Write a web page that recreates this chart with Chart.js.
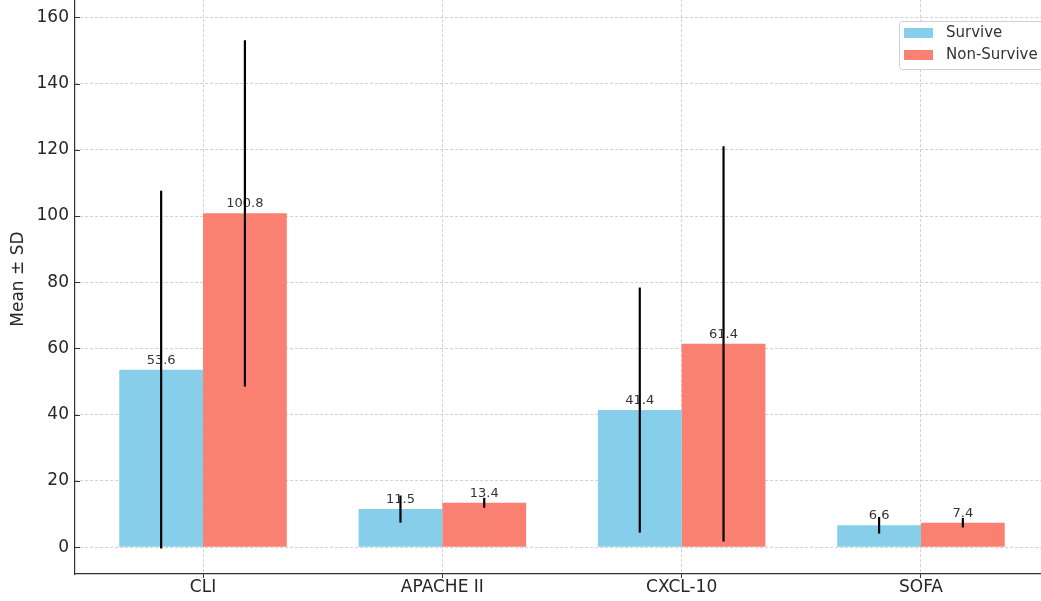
<!DOCTYPE html>
<html>
<head>
<meta charset="utf-8">
<script src="https://cdn.jsdelivr.net/npm/chart.js@4"></script>
<style>
  html, body { margin: 0; padding: 0; background: #fff; overflow: hidden; }
  body { width: 1041px; height: 601px; position: relative; }
  #wrap { position: absolute; left: 0; top: -32px; width: 1060px; height: 633px; }
</style>
</head>
<body>
<div id="wrap"><canvas id="myChart"></canvas></div>
<script>
// categories and series (mean, SD)
const categories = ['CLI', 'APACHE II', 'CXCL-10', 'SOFA'];
const seriesNames = ['Survive', 'Non-Survive'];
const surviveMean = [53.6, 11.5, 41.4, 6.6];
const surviveSD = [54.0, 4.1, 37.0, 2.5];
const nonSurviveMean = [100.8, 13.4, 61.4, 7.4];
const nonSurviveSD = [52.3, 1.5, 59.7, 1.45];
const yTicks = [0, 20, 40, 60, 80, 100, 120, 140, 160];

const colors = ['#87CEEB', '#FA8072'];
const sds = [surviveSD, nonSurviveSD];
const font = '"DejaVu Sans", sans-serif';

// error bars + value labels
const errorBars = {
  id: 'errorBars',
  afterDatasetsDraw(chart) {
    const ctx = chart.ctx;
    const y = chart.scales.y;
    ctx.save();
    chart.data.datasets.forEach((ds, d) => {
      const meta = chart.getDatasetMeta(d);
      meta.data.forEach((bar, i) => {
        const mean = ds.data[i].y;
        const top = y.getPixelForValue(mean);
        // label
        ctx.fillStyle = '#333';
        ctx.font = '13px ' + font;
        ctx.textAlign = 'center';
        ctx.textBaseline = 'alphabetic';
        ctx.fillText(mean.toFixed(1), bar.x, top - 6);
        // error bar
        ctx.strokeStyle = '#000';
        ctx.lineWidth = 2.2;
        ctx.beginPath();
        ctx.moveTo(bar.x, y.getPixelForValue(mean - sds[d][i]));
        ctx.lineTo(bar.x, y.getPixelForValue(mean + sds[d][i]));
        ctx.stroke();
      });
    });
    // y tick marks pointing inward
    const left = chart.chartArea.left;
    ctx.strokeStyle = '#333';
    ctx.lineWidth = 1;
    yTicks.forEach(v => {
      const py = Math.round(y.getPixelForValue(v)) + 0.5;
      ctx.beginPath();
      ctx.moveTo(left, py);
      ctx.lineTo(left + 5, py);
      ctx.stroke();
    });
    ctx.restore();
  }
};

// matplotlib-like legend box
const boxLegend = {
  id: 'boxLegend',
  afterDraw(chart) {
    const ctx = chart.ctx;
    const x0 = 899, y0 = 53;
    ctx.save();
    ctx.fillStyle = 'rgba(255,255,255,0.85)';
    ctx.strokeStyle = '#d0d0d0';
    ctx.lineWidth = 1;
    ctx.beginPath();
    ctx.roundRect(x0 + 0.5, y0 + 0.5, 160, 48, 3);
    ctx.fill();
    ctx.stroke();
    ctx.font = '15px ' + font;
    ctx.textAlign = 'left';
    ctx.textBaseline = 'middle';
    seriesNames.forEach((name, k) => {
      const yy = y0 + 7 + k * 22;
      ctx.fillStyle = colors[k];
      ctx.fillRect(x0 + 5, yy, 29, 10);
      ctx.fillStyle = '#333';
      ctx.fillText(name, x0 + 47, yy + 5);
    });
    ctx.restore();
  }
};

function mainEvent() {
  const ctx = document.querySelector('#myChart');
  const means = [surviveMean, nonSurviveMean];

  new Chart(ctx, {
    type: 'bar',
    data: {
      datasets: seriesNames.map((name, d) => ({
        label: name,
        data: means[d].map((v, i) => ({ x: i, y: v })),
        backgroundColor: colors[d],
        borderWidth: 0,
        barPercentage: 1.0,
        categoryPercentage: 0.7
      }))
    },
    options: {
      responsive: true,
      maintainAspectRatio: false,
      animation: false,
      layout: { padding: { top: 0, right: 11, left: 0, bottom: 0 } },
      plugins: { legend: { display: false }, tooltip: { enabled: false } },
      scales: {
        x: {
          type: 'linear',
          min: -0.535,
          max: 3.535,
          offset: false,
          afterBuildTicks: (scale) => { scale.ticks = categories.map((c, i) => ({ value: i })); },
          afterFit: (scale) => { scale.height = 27; },
          ticks: {
            callback: (v) => categories[v],
            color: '#262626',
            font: { family: font, size: 17 },
            padding: -1,
            maxRotation: 0
          },
          grid: {
            offset: false,
            color: '#cccccc',
            lineWidth: 0.9,
            tickColor: '#333',
            tickLength: 4,
            tickWidth: 1,
            tickBorderDash: []
          },
          border: { display: true, color: '#333', width: 1.2, dash: [3, 2] }
        },
        y: {
          min: -8.1,
          max: 170,
          afterBuildTicks: (scale) => { scale.ticks = yTicks.map(v => ({ value: v })); },
          afterFit: (scale) => { scale.width = 75; },
          ticks: {
            color: '#262626',
            font: { family: font, size: 17 },
            padding: 6
          },
          title: {
            display: true,
            text: 'Mean ± SD',
            color: '#262626',
            font: { family: font, size: 17 },
            padding: { top: 8, bottom: 0 }
          },
          grid: {
            color: '#cccccc',
            lineWidth: 0.9,
            drawTicks: false
          },
          border: { display: true, color: '#333', width: 1.2, dash: [3, 2] }
        }
      }
    },
    plugins: [errorBars, boxLegend]
  });
}

document.addEventListener("DOMContentLoaded", () => mainEvent());
</script>
</body>
</html>
